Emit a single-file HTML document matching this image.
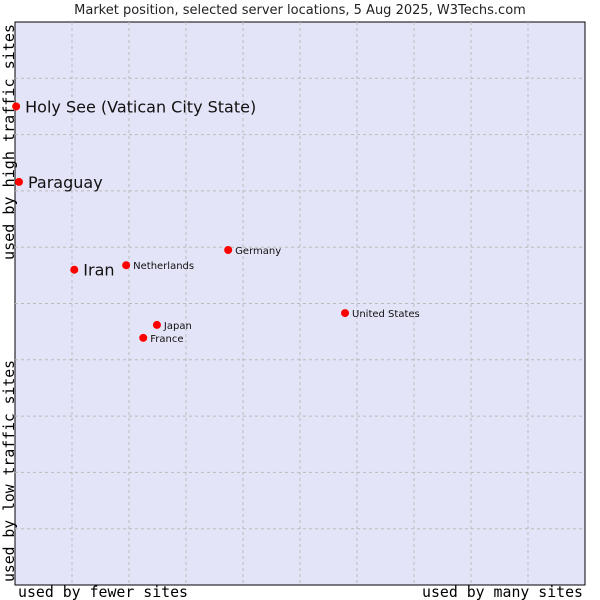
<!DOCTYPE html>
<html><head><meta charset="utf-8"><style>
body{margin:0;background:#fff;width:600px;height:600px;overflow:hidden}
svg{display:block}
</style></head><body>
<svg id="chart" width="600" height="600" font-family="'DejaVu Sans', 'Liberation Sans', sans-serif">
<text x="300" y="14" text-anchor="middle" font-size="13" fill="#222">Market position, selected server locations, 5 Aug 2025, W3Techs.com</text>
<rect x="15" y="22" width="570" height="563" fill="#e3e4f7" stroke="#000" stroke-width="1"/>
<g id="grid"></g>
<g id="pts"></g>
<text x="18" y="597" font-family="'DejaVu Sans Mono','Liberation Mono',monospace" font-size="15" textLength="170" lengthAdjust="spacingAndGlyphs" fill="#000">used by fewer sites</text>
<text x="422" y="597" font-family="'DejaVu Sans Mono','Liberation Mono',monospace" font-size="15" textLength="161" lengthAdjust="spacingAndGlyphs" fill="#000">used by many sites</text>
<text transform="translate(14,582) rotate(-90)" font-family="'DejaVu Sans Mono','Liberation Mono',monospace" font-size="15" textLength="222" lengthAdjust="spacingAndGlyphs" fill="#000">used by low traffic sites</text>
<text transform="translate(14,260) rotate(-90)" font-family="'DejaVu Sans Mono','Liberation Mono',monospace" font-size="15" textLength="236" lengthAdjust="spacingAndGlyphs" fill="#000">used by high traffic sites</text>
</svg>
<script>
const names = ["Holy See (Vatican City State)","Paraguay","Iran","Netherlands","Germany","United States","Japan","France"];
const xVals = [0.2,0.7,10.4,19.5,37.4,57.9,24.9,22.5];
const yVals = [85,71.6,56,56.8,59.5,48.3,46.2,43.9];
const bigLabel = [true,true,true,false,false,false,false,false];
const L=15,T=22,W=570,H=563;
const sx=v=>L+v/100*W, sy=v=>T+H-v/100*H;
const NS="http://www.w3.org/2000/svg";
const grid=document.getElementById('grid');
for(let i=1;i<10;i++){
  const v=document.createElementNS(NS,'line');
  v.setAttribute('x1',sx(i*10));v.setAttribute('x2',sx(i*10));v.setAttribute('y1',T);v.setAttribute('y2',T+H);
  v.setAttribute('stroke','#bbb');v.setAttribute('stroke-dasharray','3,3');
  
  
  grid.appendChild(v);
  const h=document.createElementNS(NS,'line');
  h.setAttribute('y1',sy(i*10));h.setAttribute('y2',sy(i*10));h.setAttribute('x1',L);h.setAttribute('x2',L+W);
  h.setAttribute('stroke','#bbb');h.setAttribute('stroke-dasharray','3,3');
  
  
  grid.appendChild(h);
}
const pts=document.getElementById('pts');
names.forEach((n,i)=>{
  const x=sx(xVals[i]),y=sy(yVals[i]);
  const c=document.createElementNS(NS,'circle');
  c.setAttribute('cx',x);c.setAttribute('cy',y);c.setAttribute('r','4');
  c.setAttribute('fill','#f00');
  
  
  pts.appendChild(c);
  const t=document.createElementNS(NS,'text');
  t.setAttribute('x',x+(bigLabel[i]?9:7));
  t.setAttribute('y',y+(bigLabel[i]?6:4));
  t.setAttribute('font-size',bigLabel[i]?'16':'10');
  t.setAttribute('fill','#111');
  t.textContent=n;
  
  
  pts.appendChild(t);
});
</script>
</body></html>
